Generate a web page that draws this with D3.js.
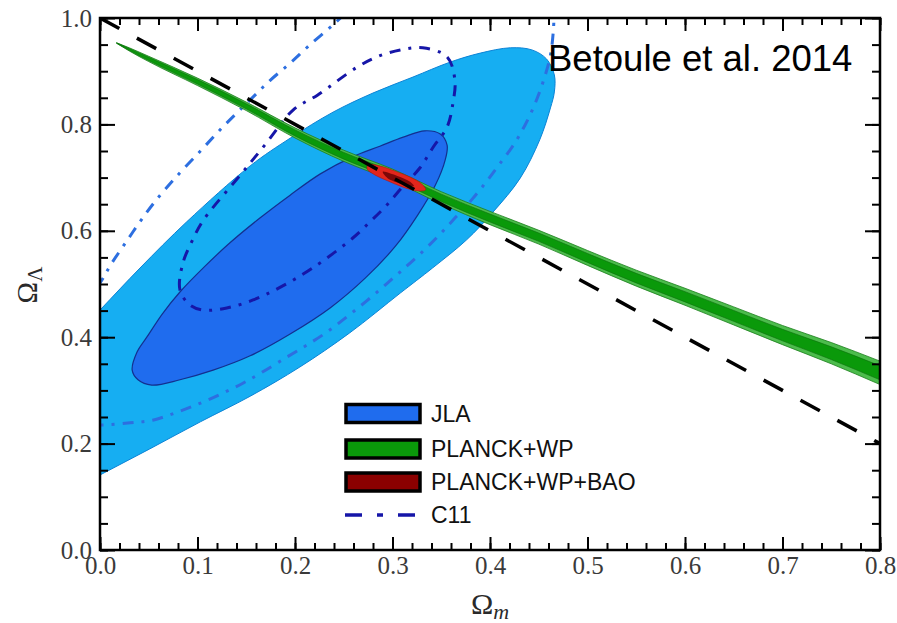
<!DOCTYPE html>
<html>
<head>
<meta charset="utf-8">
<script src="https://cdn.jsdelivr.net/npm/d3@7/dist/d3.min.js"></script>
<style>
  body { margin: 0; background: #fff; }
  svg { display: block; }
</style>
</head>
<body>
<svg id="chart" width="897" height="623"></svg>
<script>
// ---- Axis ticks ----
const xMajorTicks = [0.0, 0.1, 0.2, 0.3, 0.4, 0.5, 0.6, 0.7, 0.8];
const xMinorTicks = d3.range(0, 41).map(i => i / 50);          // every 0.02
const yMajorTicks = [0.0, 0.2, 0.4, 0.6, 0.8, 1.0];
const yMinorTicks = d3.range(0, 21).map(i => i / 20);          // every 0.05

// ---- JLA contours [Omega_m, Omega_Lambda] ----
const jlaOuter = [
  [-0.051, 0.353], [0.000, 0.451], [0.041, 0.530], [0.089, 0.617], [0.154, 0.722],
  [0.195, 0.774], [0.239, 0.823], [0.280, 0.859], [0.321, 0.889], [0.359, 0.917],
  [0.390, 0.934], [0.421, 0.944], [0.443, 0.940], [0.458, 0.923], [0.466, 0.893],
  [0.466, 0.861], [0.462, 0.831], [0.451, 0.771], [0.431, 0.699], [0.403, 0.635],
  [0.376, 0.583], [0.341, 0.530], [0.308, 0.483], [0.256, 0.408], [0.205, 0.344],
  [0.154, 0.289], [0.103, 0.241], [0.051, 0.190], [0.000, 0.141], [-0.051, 0.092]
];
const jlaInner = [
  [0.033, 0.338], [0.038, 0.372], [0.048, 0.400], [0.064, 0.444], [0.082, 0.485],
  [0.108, 0.534], [0.133, 0.577], [0.164, 0.624], [0.195, 0.667], [0.226, 0.707],
  [0.259, 0.739], [0.287, 0.759], [0.311, 0.776], [0.333, 0.788], [0.349, 0.782],
  [0.356, 0.761], [0.354, 0.733], [0.344, 0.686], [0.326, 0.630], [0.303, 0.571],
  [0.272, 0.511], [0.236, 0.455], [0.195, 0.406], [0.154, 0.365], [0.116, 0.338],
  [0.082, 0.320], [0.053, 0.310], [0.039, 0.320]
];

// ---- C11 contours ----
const c11Inner = [
  [0.092, 0.461], [0.082, 0.489], [0.085, 0.539], [0.095, 0.583], [0.106, 0.620],
  [0.144, 0.705], [0.169, 0.761], [0.198, 0.827], [0.223, 0.855], [0.264, 0.908],
  [0.284, 0.927], [0.308, 0.940], [0.331, 0.944], [0.356, 0.927], [0.364, 0.883],
  [0.362, 0.840], [0.356, 0.795], [0.342, 0.758], [0.328, 0.718], [0.310, 0.682],
  [0.294, 0.648], [0.277, 0.617], [0.259, 0.586], [0.218, 0.530], [0.185, 0.494],
  [0.157, 0.470], [0.130, 0.455], [0.106, 0.451]
];
const c11Outer = [
  [0.251, 1.008], [0.239, 0.987], [0.215, 0.949], [0.195, 0.915], [0.174, 0.882],
  [0.154, 0.846], [0.128, 0.799], [0.103, 0.750], [0.077, 0.699], [0.056, 0.654],
  [0.041, 0.617], [0.026, 0.577], [0.012, 0.539], [0.000, 0.502], [-0.03, 0.43],
  [-0.03, 0.24], [0.000, 0.235], [0.031, 0.239], [0.054, 0.244], [0.079, 0.259],
  [0.103, 0.276], [0.126, 0.295], [0.147, 0.314], [0.167, 0.335], [0.192, 0.363],
  [0.212, 0.385], [0.233, 0.410], [0.253, 0.438], [0.272, 0.466], [0.290, 0.494],
  [0.308, 0.523], [0.328, 0.556], [0.349, 0.594], [0.366, 0.628], [0.382, 0.660],
  [0.397, 0.694], [0.410, 0.726], [0.424, 0.761], [0.436, 0.799], [0.446, 0.838],
  [0.455, 0.883], [0.462, 0.930], [0.465, 0.977], [0.466, 1.024]
];

// ---- PLANCK+WP band ----
const planckOm     = [0.017, 0.03, 0.05, 0.10, 0.15, 0.20, 0.25, 0.30, 0.35, 0.40, 0.45, 0.50, 0.55, 0.60, 0.65, 0.70, 0.75, 0.80];
const planckOL     = [0.953, 0.941, 0.923, 0.880, 0.834, 0.784, 0.741, 0.705, 0.662, 0.624, 0.588, 0.549, 0.511, 0.476, 0.440, 0.404, 0.370, 0.333];
const planckHalf2s = [0.0005, 0.003, 0.005, 0.007, 0.008, 0.0095, 0.0105, 0.011, 0.0115, 0.0125, 0.013, 0.014, 0.015, 0.016, 0.017, 0.018, 0.020, 0.022];
const planckHalf1s = [0.0003, 0.0018, 0.003, 0.0042, 0.0048, 0.0057, 0.0063, 0.0066, 0.0069, 0.0075, 0.0078, 0.0084, 0.009, 0.0096, 0.0102, 0.0108, 0.012, 0.0132];

// ---- PLANCK+WP+BAO ----
const baoOuter = [
  [0.275, 0.724], [0.287, 0.722], [0.303, 0.712], [0.318, 0.701], [0.330, 0.688],
  [0.334, 0.677], [0.326, 0.675], [0.311, 0.682], [0.295, 0.694], [0.282, 0.705],
  [0.274, 0.716]
];
const baoInner = [
  [0.290, 0.711], [0.305, 0.703], [0.318, 0.692], [0.322, 0.684], [0.310, 0.688],
  [0.295, 0.699]
];

// ---- Flat universe line ----
const flatLine = [[0.0, 1.0], [0.8, 0.2]];

// ---- Legend ----
const legendLabels = ["JLA", "PLANCK+WP", "PLANCK+WP+BAO", "C11"];
const colors = {
  jlaOuter: "#16aef2", jlaOuterEdge: "#0b83d6",
  jlaInner: "#1f6cee", jlaInnerEdge: "#13308f",
  c11Inner: "#1616a8", c11Outer: "#2d6fe0",
  planckOuter: "#4cbc4c", planckInner: "#0a990a", planckEdge: "#1a7d1a",
  baoOuter: "#e3261c", baoInner: "#7c0808"
};

const svg = d3.select("#chart");
const plot = { left: 100, right: 880, top: 18, bottom: 550 };

const x = d3.scaleLinear().domain([0, 0.8]).range([plot.left, plot.right]);
const y = d3.scaleLinear().domain([0, 1]).range([plot.bottom, plot.top]);

svg.append("defs").append("clipPath").attr("id", "plotClip")
  .append("rect")
  .attr("x", plot.left).attr("y", plot.top)
  .attr("width", plot.right - plot.left).attr("height", plot.bottom - plot.top);

const g = svg.append("g").attr("clip-path", "url(#plotClip)");

const closedLine = d3.line().x(d => x(d[0])).y(d => y(d[1])).curve(d3.curveCatmullRomClosed.alpha(0.5));
const openLine = d3.line().x(d => x(d[0])).y(d => y(d[1])).curve(d3.curveCatmullRom.alpha(0.5));

// JLA filled regions
g.append("path").attr("d", closedLine(jlaOuter))
  .attr("fill", colors.jlaOuter).attr("stroke", colors.jlaOuterEdge).attr("stroke-width", 1);
g.append("path").attr("d", closedLine(jlaInner))
  .attr("fill", colors.jlaInner).attr("stroke", colors.jlaInnerEdge).attr("stroke-width", 1.2);

// C11 dash-dot contours
const dashDot = "11,8,3,8";
g.append("path").attr("d", openLine(c11Outer))
  .attr("fill", "none").attr("stroke", colors.c11Outer).attr("stroke-width", 3)
  .attr("stroke-dasharray", dashDot);
g.append("path").attr("d", closedLine(c11Inner))
  .attr("fill", "none").attr("stroke", colors.c11Inner).attr("stroke-width", 3)
  .attr("stroke-dasharray", dashDot);

// PLANCK+WP band
const planckRows = planckOm.map((m, i) => ({ m, c: planckOL[i], h2: planckHalf2s[i], h1: planckHalf1s[i] }));
const band = (key) => d3.area()
  .x(d => x(d.m)).y0(d => y(d.c - d[key])).y1(d => y(d.c + d[key]))
  .curve(d3.curveMonotoneX);
g.append("path").attr("d", band("h2")(planckRows))
  .attr("fill", colors.planckOuter).attr("stroke", colors.planckEdge).attr("stroke-width", 0.8);
g.append("path").attr("d", band("h1")(planckRows))
  .attr("fill", colors.planckInner).attr("stroke", "#0c6f0c").attr("stroke-width", 0.6);

// PLANCK+WP+BAO
g.append("path").attr("d", closedLine(baoOuter))
  .attr("fill", colors.baoOuter).attr("stroke", "#b01010").attr("stroke-width", 0.6);
g.append("path").attr("d", closedLine(baoInner))
  .attr("fill", colors.baoInner);

// Flat universe dashed line
g.append("path").attr("d", d3.line().x(d => x(d[0])).y(d => y(d[1]))(flatLine))
  .attr("fill", "none").attr("stroke", "#000").attr("stroke-width", 3.5)
  .attr("stroke-dasharray", "22,20");

// ---- Axes ----
const tickFont = "'Liberation Serif', 'Times New Roman', serif";
function styleAxis(sel) {
  sel.select(".domain").remove();
  sel.selectAll(".tick line").attr("stroke", "#000").attr("stroke-width", 2);
  sel.selectAll(".tick text").attr("font-family", tickFont).attr("font-size", 25).attr("fill", "#3a3a3a");
}

// bottom
svg.append("g").attr("transform", `translate(0,${plot.bottom})`)
  .call(d3.axisBottom(x).tickValues(xMinorTicks).tickSize(-7).tickFormat(""))
  .call(styleAxis);
svg.append("g").attr("transform", `translate(0,${plot.bottom})`)
  .call(d3.axisBottom(x).tickValues(xMajorTicks).tickSize(-13).tickPadding(6).tickFormat(d3.format(".1f")))
  .call(styleAxis);
// top
svg.append("g").attr("transform", `translate(0,${plot.top})`)
  .call(d3.axisTop(x).tickValues(xMinorTicks).tickSize(-7).tickFormat(""))
  .call(styleAxis);
svg.append("g").attr("transform", `translate(0,${plot.top})`)
  .call(d3.axisTop(x).tickValues(xMajorTicks).tickSize(-13).tickFormat(""))
  .call(styleAxis);
// left
svg.append("g").attr("transform", `translate(${plot.left},0)`)
  .call(d3.axisLeft(y).tickValues(yMinorTicks).tickSize(-8).tickFormat(""))
  .call(styleAxis);
svg.append("g").attr("transform", `translate(${plot.left},0)`)
  .call(d3.axisLeft(y).tickValues(yMajorTicks).tickSize(-15).tickPadding(8).tickFormat(d3.format(".1f")))
  .call(styleAxis);
// right
svg.append("g").attr("transform", `translate(${plot.right},0)`)
  .call(d3.axisRight(y).tickValues(yMinorTicks).tickSize(-8).tickFormat(""))
  .call(styleAxis);
svg.append("g").attr("transform", `translate(${plot.right},0)`)
  .call(d3.axisRight(y).tickValues(yMajorTicks).tickSize(-15).tickFormat(""))
  .call(styleAxis);

// frame
svg.append("rect")
  .attr("x", plot.left).attr("y", plot.top)
  .attr("width", plot.right - plot.left).attr("height", plot.bottom - plot.top)
  .attr("fill", "none").attr("stroke", "#000").attr("stroke-width", 2.5);

// ---- Axis titles ----
const xTitle = svg.append("text")
  .attr("x", 490).attr("y", 614)
  .attr("text-anchor", "middle")
  .attr("font-family", tickFont).attr("font-size", 30).attr("fill", "#2a2a2a");
xTitle.append("tspan").text("Ω");
xTitle.append("tspan").attr("font-style", "italic").attr("font-size", 22).attr("dy", 5).text("m");

const yTitle = svg.append("text")
  .attr("transform", "translate(37,285) rotate(-90)")
  .attr("text-anchor", "middle")
  .attr("font-family", tickFont).attr("font-size", 29).attr("fill", "#2a2a2a");
yTitle.append("tspan").text("Ω");
yTitle.append("tspan").attr("font-size", 21).attr("dy", 5).text("Λ");

// ---- Citation ----
svg.append("text")
  .attr("x", 548).attr("y", 71)
  .attr("font-family", "'Liberation Sans', Arial, sans-serif").attr("font-size", 36.5)
  .attr("fill", "#000").text("Betoule et al. 2014");

// ---- Legend ----
const legendFont = "'Liberation Sans', Arial, sans-serif";
const legendRows = [
  { label: legendLabels[0], fill: colors.jlaInner, cy: 413.5 },
  { label: legendLabels[1], fill: colors.planckInner, cy: 449 },
  { label: legendLabels[2], fill: "#8b0000", cy: 482 },
  { label: legendLabels[3], line: colors.c11Inner, cy: 515 }
];
const lg = svg.append("g");
legendRows.forEach(r => {
  if (r.fill) {
    lg.append("rect")
      .attr("x", 346).attr("y", r.cy - 9).attr("width", 74).attr("height", 18)
      .attr("fill", r.fill).attr("stroke", "#000").attr("stroke-width", 3.5);
  } else {
    lg.append("line")
      .attr("x1", 345).attr("x2", 421).attr("y1", r.cy).attr("y2", r.cy)
      .attr("stroke", r.line).attr("stroke-width", 3.5)
      .attr("stroke-dasharray", "17,15,6,15");
  }
  lg.append("text")
    .attr("x", 431).attr("y", r.cy).attr("dy", "0.36em")
    .attr("font-family", legendFont).attr("font-size", 23).attr("fill", "#111")
    .text(r.label);
});
</script>
</body>
</html>
